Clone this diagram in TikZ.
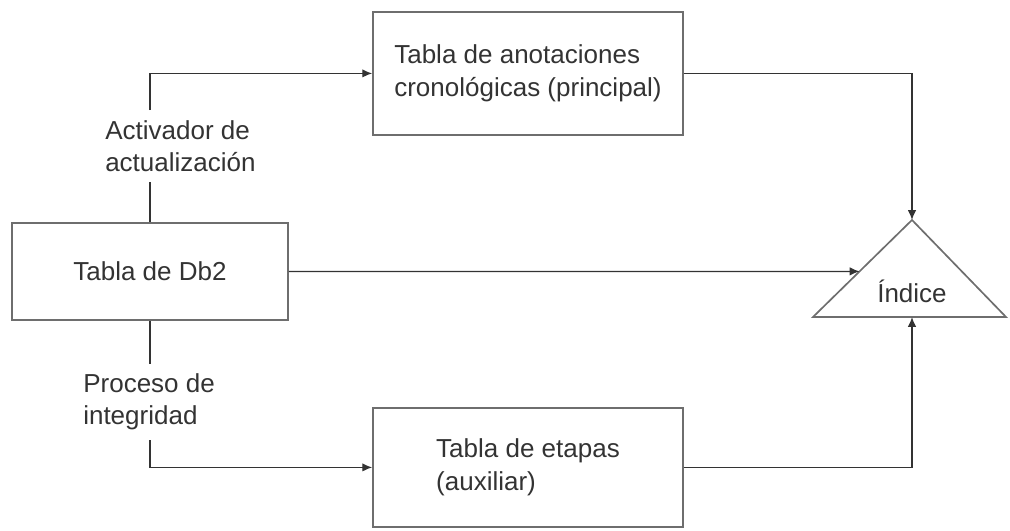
\documentclass[tikz,border=0pt]{standalone}
\usepackage{fontspec}
\setmainfont{Liberation Sans}
\usetikzlibrary{arrows.meta}
\definecolor{boxgray}{HTML}{6E6E6E}
\definecolor{ink}{HTML}{333333}
\begin{document}
\begin{tikzpicture}[
	every node/.style={font=\fontsize{18.5}{23}\selectfont,text=ink},
	tabla/.style={draw=boxgray,line width=1.2pt,align=left},
	etiq/.style={align=left,inner xsep=0pt,inner ysep=7pt},
	linea/.style={draw=ink,line width=0.9pt},
	flecha/.style={linea,-{Latex[length=7pt,width=6pt]}}]
		\useasboundingbox (0,0) rectangle (25.25,13.275);
		% tablas
		\node[tabla,minimum width=6.9cm,minimum height=2.425cm] (db2) at (3.75,6.49) {Tabla de Db2};
		\node[tabla,minimum width=7.75cm,minimum height=3.075cm] (princ) at (13.2,11.44) {Tabla de anotaciones\\cronológicas (principal)};
		\node[tabla,minimum width=7.75cm,minimum height=2.975cm] (aux) at (13.2,1.59) {Tabla de etapas\\(auxiliar)};
		% indice
		\coordinate (izq) at (20.325,5.35);
		\coordinate (cima) at (22.8,7.775);
		\coordinate (der) at (25.15,5.35);
		\coordinate (base) at (22.8,5.35);
		\draw[boxgray,line width=1.2pt] (izq) -- (cima) -- (der) -- cycle;
		\node (indice) at (22.8,6.0) {Índice};
		% etiquetas
		\node[etiq,anchor=west] (activ) at (2.625,9.625) {Activador de\\actualización};
		\node[etiq,anchor=west] (integ) at (2.075,3.225) {Proceso de\\integridad};
		% conexiones
		\draw[linea] (db2.north) -- (db2.north |- activ.south);
		\draw[flecha] (db2.north |- activ.north) |- (princ.west);
		\draw[linea] (db2.south) -- (db2.south |- integ.north);
		\draw[flecha] (db2.south |- integ.south) |- (aux.west);
		\coordinate (horiz) at (db2.east -| cima);
		\draw[flecha] (db2.east) -- (intersection of db2.east--horiz and izq--cima);
		\draw[flecha] (princ.east) -| (cima);
		\draw[flecha] (aux.east) -| (base);
\end{tikzpicture}
\end{document}
